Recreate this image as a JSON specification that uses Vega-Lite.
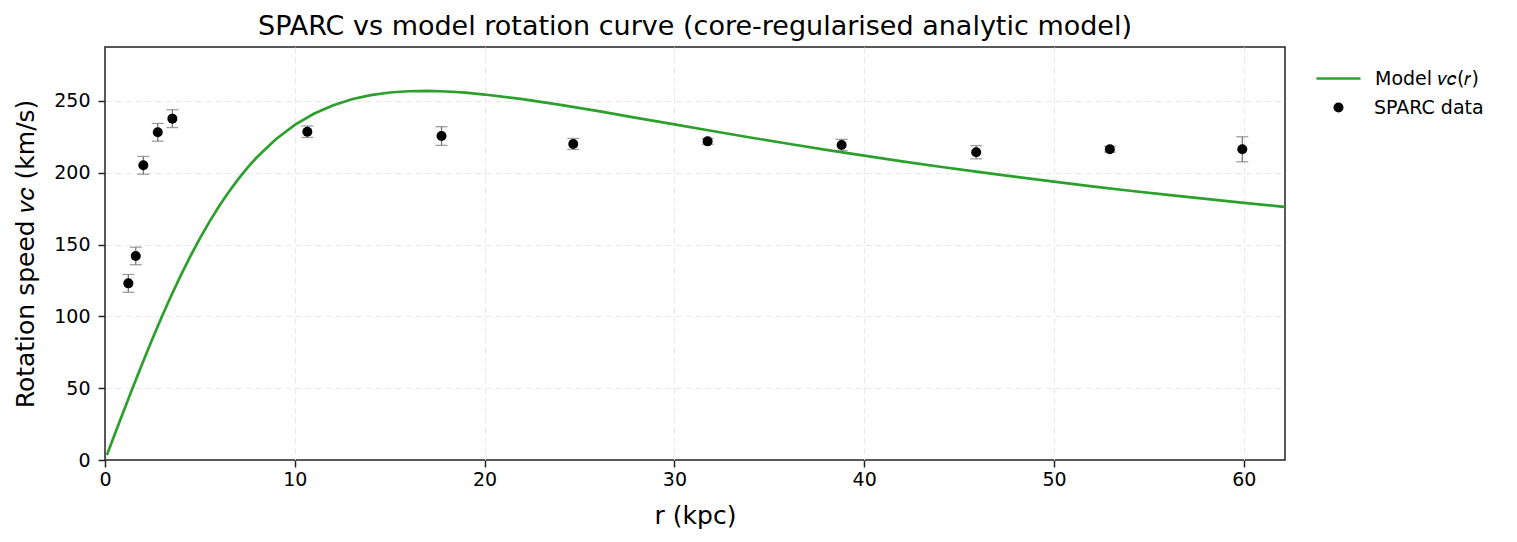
{
  "$schema": "https://vega.github.io/schema/vega-lite/v6.json",
  "width": 1180,
  "height": 413,
  "autosize": {"type": "none"},
  "padding": {"left": 105, "top": 47, "right": 232, "bottom": 82},
  "background": "white",
  "title": {"text": "SPARC vs model rotation curve (core-regularised analytic model)", "fontSize": 27, "font": "DejaVu Sans", "fontWeight": "normal", "color": "#000", "anchor": "middle", "offset": 6},
  "config": {
    "font": "DejaVu Sans",
    "view": {"stroke": "#222", "strokeWidth": 1.5},
    "axis": {"domain": false, "grid": true, "labelFlush": false, "gridColor": "#e8e8e8", "gridDash": [6, 4], "gridWidth": 1, "gridOpacity": {"condition": {"test": "datum.value === 0", "value": 0}, "value": 1}, "tickColor": "#222", "tickWidth": 1.5, "tickSize": 7, "labelFontSize": 19, "labelColor": "#000", "titleFontSize": 25, "titleFontWeight": "normal", "titleColor": "#000", "labelFont": "DejaVu Sans", "titleFont": "DejaVu Sans"},
    "axisX": {"labelPadding": 3, "titlePadding": 14},
    "axisY": {"labelPadding": 8, "titlePadding": 15}
  },
  "datasets": {
    "model": [
      {"r": 0.1, "v": 3.5}, {"r": 0.5, "v": 17.4}, {"r": 1, "v": 34.7}, {"r": 1.5, "v": 51.7}, {"r": 2, "v": 68.3}, {"r": 2.5, "v": 84.4}, {"r": 3, "v": 99.9}, {"r": 3.5, "v": 114.7}, {"r": 4, "v": 128.7}, {"r": 4.5, "v": 141.9}, {"r": 5, "v": 154.3}, {"r": 5.5, "v": 165.8}, {"r": 6, "v": 176.5}, {"r": 6.5, "v": 186.3}, {"r": 7, "v": 195.2}, {"r": 7.5, "v": 203.4}, {"r": 8, "v": 210.8}, {"r": 9, "v": 223.4}, {"r": 10, "v": 233.4}, {"r": 11, "v": 241.1}, {"r": 12, "v": 246.9}, {"r": 13, "v": 251.2}, {"r": 14, "v": 254.1}, {"r": 15, "v": 255.9}, {"r": 16, "v": 256.8}, {"r": 17, "v": 257.0}, {"r": 18, "v": 256.6}, {"r": 19, "v": 255.8}, {"r": 20, "v": 254.5}, {"r": 22, "v": 251.3}, {"r": 24, "v": 247.3}, {"r": 26, "v": 242.9}, {"r": 28, "v": 238.3}, {"r": 30, "v": 233.7}, {"r": 32, "v": 229.1}, {"r": 34, "v": 224.6}, {"r": 36, "v": 220.2}, {"r": 38, "v": 216.0}, {"r": 40, "v": 211.9}, {"r": 42, "v": 208.0}, {"r": 44, "v": 204.2}, {"r": 46, "v": 200.6}, {"r": 48, "v": 197.1}, {"r": 50, "v": 193.8}, {"r": 52, "v": 190.6}, {"r": 54, "v": 187.5}, {"r": 56, "v": 184.6}, {"r": 58, "v": 181.8}, {"r": 60, "v": 179.1}, {"r": 62, "v": 176.5}, {"r": 63, "v": 175.2}
    ],
    "sparc": [
      {"r": 1.23, "v": 123.0, "e": 6.2}, {"r": 1.62, "v": 142.1, "e": 6.1}, {"r": 2.02, "v": 205.2, "e": 6.2}, {"r": 2.78, "v": 228.2, "e": 6.2}, {"r": 3.55, "v": 237.7, "e": 6.2}, {"r": 10.66, "v": 228.6, "e": 4.0}, {"r": 17.73, "v": 225.6, "e": 6.5}, {"r": 24.67, "v": 220.1, "e": 3.8}, {"r": 31.75, "v": 221.9, "e": 2.0}, {"r": 38.81, "v": 219.4, "e": 3.9}, {"r": 45.9, "v": 214.3, "e": 4.6}, {"r": 52.94, "v": 216.4, "e": 2.0}, {"r": 59.92, "v": 216.4, "e": 8.7}
    ]
  },
  "encoding": {
    "x": {"field": "r", "type": "quantitative", "scale": {"domain": [0, 62.17], "nice": false, "zero": false}, "axis": {"title": "r (kpc)", "values": [0, 10, 20, 30, 40, 50, 60]}},
    "y": {"field": "v", "type": "quantitative", "scale": {"domain": [0, 287.6], "nice": false}, "axis": {"title": "Rotation speed 𝑣𝑐 (km/s)", "values": [0, 50, 100, 150, 200, 250]}}
  },
  "layer": [
    {
      "data": {"name": "model"},
      "mark": {"type": "line", "strokeWidth": 2.7, "clip": true},
      "encoding": {
        "stroke": {"datum": "Model 𝑣𝑐(𝑟)", "scale": {"domain": ["Model 𝑣𝑐(𝑟)"], "range": ["#2ca02c"]}, "legend": {"title": null, "orient": "none", "legendX": 1210, "legendY": 8, "symbolType": "stroke", "symbolSize": 1936, "symbolStrokeWidth": 2.7, "labelFontSize": 19, "labelOffset": 13, "padding": 0, "labelFont": "DejaVu Sans", "labelColor": "#000"}}
      }
    },
    {
      "data": {"name": "sparc"},
      "mark": {"type": "errorbar", "ticks": {"size": 12, "color": "#777", "thickness": 1.3}, "rule": {"color": "#777", "strokeWidth": 1.3}},
      "encoding": {
        "yError": {"field": "e"}
      }
    },
    {
      "data": {"name": "sparc"},
      "mark": {"type": "point", "filled": true, "size": 100, "opacity": 1},
      "encoding": {
        "fill": {"datum": "SPARC data", "scale": {"domain": ["SPARC data"], "range": ["#000"]}, "legend": {"title": null, "orient": "none", "legendX": 1224, "legendY": 51, "symbolType": "circle", "symbolSize": 100, "symbolStrokeWidth": 0, "labelFontSize": 19, "labelOffset": 26, "padding": 0, "labelFont": "DejaVu Sans", "labelColor": "#000"}}
      }
    }
  ]
}
